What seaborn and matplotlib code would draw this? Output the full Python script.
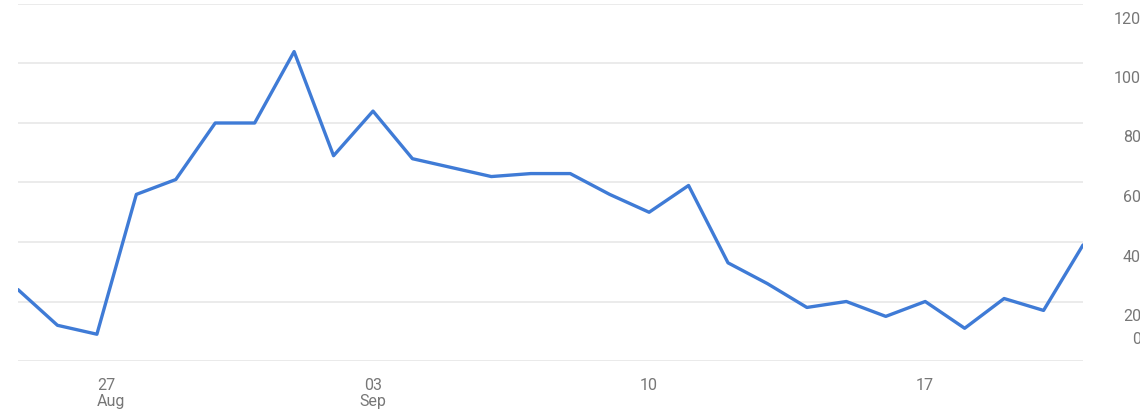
import pandas as pd
import matplotlib.pyplot as plt
import matplotlib.transforms as mtransforms
import seaborn as sns

# ----------------------------------------------------------------------------------------------
# Data (daily values, 25 Aug - 21 Sep)
# ----------------------------------------------------------------------------------------------
start_date = "2023-08-25"
values = [24, 12, 9, 56, 61, 80, 80, 104, 69, 84, 68, 65, 62, 63,
          63, 56, 50, 59, 33, 26, 18, 20, 15, 20, 11, 21, 17, 39]
x_tick_dates = ["2023-08-27", "2023-09-03", "2023-09-10", "2023-09-17"]
x_tick_labels = ["27\nAug", "03\nSep", "10", "17"]
y_ticks = [0, 20, 40, 60, 80, 100, 120]

df = pd.DataFrame({"date": pd.date_range(start_date, periods=len(values), freq="D"),
                   "value": values})

# ----------------------------------------------------------------------------------------------
# Plot
# ----------------------------------------------------------------------------------------------
sns.set_style("white")
plt.rcParams["font.family"] = ["Roboto", "DejaVu Sans"]

fig = plt.figure(figsize=(11.4, 4.15), dpi=100)
ax = fig.add_axes([18 / 1140, 54 / 415, (1083 - 18) / 1140, 357 / 415])

sns.lineplot(data=df, x="date", y="value", color="#3f7bd6", linewidth=2.4, ax=ax)

ax.set_xlim(df["date"].iloc[0], df["date"].iloc[-1])
ax.set_ylim(0, 120)
ax.set_yticks(y_ticks)
ax.grid(axis="y", color="#ebebeb", linewidth=1.4)
ax.set_axisbelow(True)
for side in ["top", "right", "left", "bottom"]:
    ax.spines[side].set_visible(False)
ax.axhline(0, color="#e4e4e4", linewidth=1.4, zorder=0)

ax.set_xticks(pd.to_datetime(x_tick_dates))
ax.xaxis.set_major_formatter(plt.FixedFormatter(x_tick_labels))
ax.tick_params(axis="x", length=4, color="#e4e4e4", pad=8, labelsize=11.5,
               labelcolor="#777777")
for lab in ax.get_xticklabels():
    lab.set_linespacing(1.1)
ax.get_xticklabels()[0].set_horizontalalignment("left")
ax.tick_params(axis="y", left=False, labelleft=False)
ax.set_xlabel("")
ax.set_ylabel("")

# right-hand value labels, sitting just under their gridlines as in the reference
for v in y_ticks:
    dy = 22 if v == 0 else -15
    trans = mtransforms.offset_copy(ax.get_yaxis_transform(), fig=fig, x=58, y=dy, units="dots")
    ax.text(1.0, v, str(v), transform=trans, ha="right", va="center",
            fontsize=11.5, color="#777777", clip_on=False)

plt.savefig("out.png", dpi=100)
plt.close()
